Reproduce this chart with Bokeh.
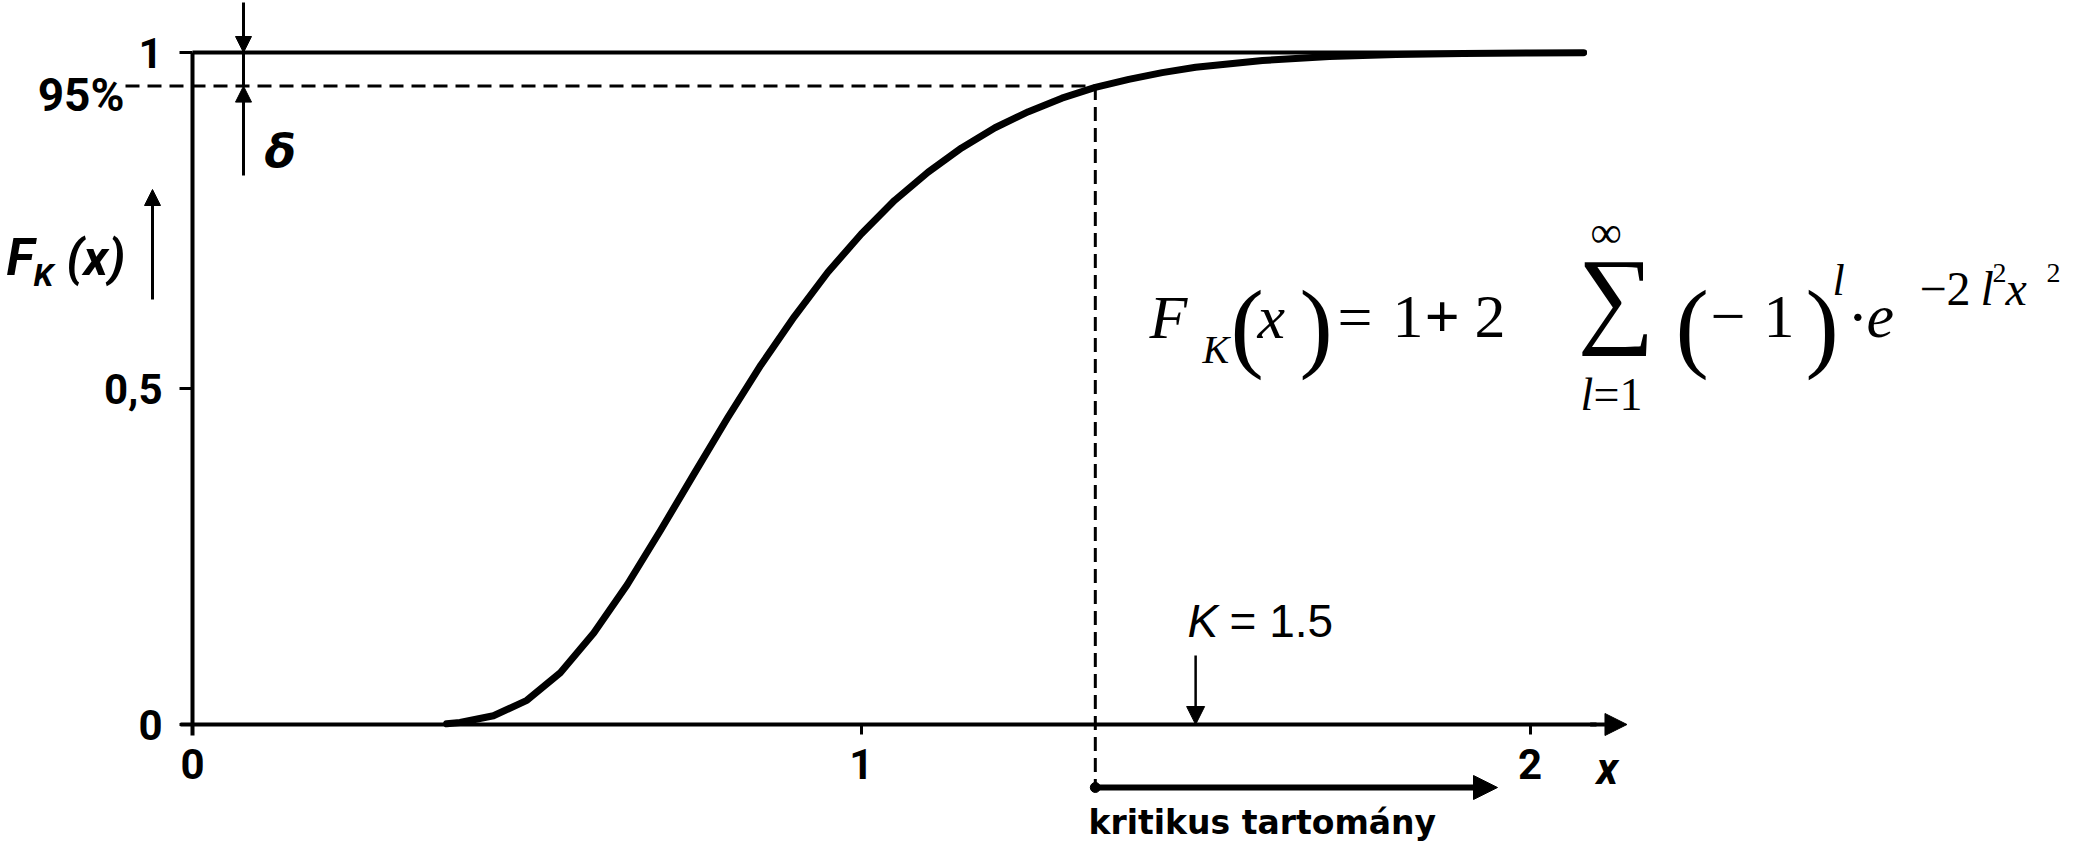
from bokeh.plotting import figure
from bokeh.models import Range1d, LinearAxis, FixedTicker, Arrow, NormalHead
from bokeh.core.properties import value
from bokeh.embed import file_html
from bokeh.resources import INLINE

# ---- data ----
curve_x = [0.38, 0.40, 0.45, 0.50, 0.55, 0.60, 0.65, 0.70, 0.75, 0.80, 0.85, 0.90,
           0.95, 1.00, 1.05, 1.10, 1.15, 1.20, 1.25, 1.30, 1.35, 1.40, 1.45, 1.50,
           1.60, 1.70, 1.80, 1.90, 2.00, 2.08]
curve_y = [0.001, 0.003, 0.013, 0.036, 0.077, 0.136, 0.208, 0.289, 0.373, 0.456, 0.535, 0.607,
           0.673, 0.730, 0.780, 0.822, 0.858, 0.888, 0.912, 0.932, 0.948, 0.960, 0.970, 0.978,
           0.988, 0.994, 0.997, 0.9985, 0.9993, 0.9997]
x_ticks = [0, 1, 2]
x_tick_labels = ["0", "1", "2"]
y_ticks = [0, 0.5, 1]
y_tick_labels = ["0", "0,5", "1"]
level = 0.95          # 95 %
x_crit = 1.35         # critical value where F = 0.95
K_value = 1.5         # test statistic
x_end = 2.085         # end of the 1-line

W, H = 2075, 845
OFF = 8
# reference pixel -> data
def dx(X):
    return (X - 200) / 668.75
def dy(Y):
    return (732 - Y) / 672.0

p = figure(width=W, height=H, output_backend="svg", toolbar_location=None,
           x_range=Range1d(dx(OFF), dx(OFF + W)), y_range=Range1d(dy(OFF + H), dy(OFF)),
           x_axis_location=None, y_axis_location=None, min_border=0)
p.outline_line_color = None
p.background_fill_color = "white"
p.border_fill_color = "white"
p.xgrid.grid_line_color = None
p.ygrid.grid_line_color = None

HAND = "Roboto"

def style_axis(ax):
    ax.axis_line_width = 4
    ax.axis_line_color = "black"
    ax.major_tick_line_width = 3
    ax.major_tick_in = 0
    ax.minor_tick_line_color = None
    ax.major_label_text_font = HAND
    ax.major_label_text_font_style = "bold"
    ax.major_label_text_font_size = "42px"
    ax.major_label_text_color = "black"

yaxis = LinearAxis(fixed_location=0, ticker=FixedTicker(ticks=y_ticks),
                   bounds=(-0.016, 1.0))
yaxis.major_label_overrides = {t: l for t, l in zip(y_ticks, y_tick_labels)}
style_axis(yaxis)
yaxis.major_tick_out = 13
yaxis.major_label_standoff = 17
p.add_layout(yaxis, "left")

xaxis = LinearAxis(fixed_location=0, ticker=FixedTicker(ticks=x_ticks),
                   bounds=(-0.018, 2.1))
xaxis.major_label_overrides = {t: l for t, l in zip(x_ticks, x_tick_labels)}
style_axis(xaxis)
xaxis.major_tick_out = 10
xaxis.major_label_standoff = 14
p.add_layout(xaxis, "below")

# x-axis arrow head
p.add_layout(Arrow(x_start=2.09, y_start=0, x_end=2.145, y_end=0, line_width=4,
                   end=NormalHead(size=22, fill_color="black", line_color="black")))

# 1-level line
p.segment(x0=[0], y0=[1], x1=[x_end], y1=[1], line_width=4, line_color="black")

# 95% dashed lines
p.segment(x0=[dx(133)], y0=[level], x1=[x_crit], y1=[level], line_width=3,
          line_color="black", line_dash="14 8")
p.segment(x0=[x_crit], y0=[level], x1=[x_crit], y1=[dy(795)], line_width=3,
          line_color="black", line_dash="14 7")

# curve
p.line(curve_x, curve_y, line_width=7, line_color="black", line_cap="round", line_join="round")

# critical region arrow
p.scatter(x=[x_crit], y=[dy(795)], size=10, marker="circle", color="black")
p.add_layout(Arrow(x_start=x_crit, y_start=dy(795), x_end=dx(1505), y_end=dy(795),
                   line_width=6, end=NormalHead(size=24, fill_color="black", line_color="black")))

# K arrow
p.add_layout(Arrow(x_start=K_value, y_start=dy(663), x_end=K_value, y_end=0, line_width=2.5,
                   end=NormalHead(size=18, fill_color="black", line_color="black")))

# delta arrows
xd = dx(251)
p.add_layout(Arrow(x_start=xd, y_start=dy(10), x_end=xd, y_end=1, line_width=3,
                   end=NormalHead(size=16, fill_color="black", line_color="black")))
p.segment(x0=[xd], y0=[1], x1=[xd], y1=[level], line_width=3, line_color="black")
p.add_layout(Arrow(x_start=xd, y_start=dy(183), x_end=xd, y_end=level, line_width=3,
                   end=NormalHead(size=16, fill_color="black", line_color="black")))

# F_K(x) arrow
p.add_layout(Arrow(x_start=dx(160), y_start=dy(307), x_end=dx(160), y_end=dy(197), line_width=3,
                   end=NormalHead(size=16, fill_color="black", line_color="black")))


def put(txt, X, B, size, font="Liberation Serif", style="normal", align="left"):
    # B = wanted baseline (reference pixels); compensate the renderer's baseline shift
    Y = B - 0.24 * size
    p.text(x=[dx(X)], y=[dy(Y)], text=[txt], text_font=value(font),
           text_font_size=f"{size}px", text_font_style=style, text_align=align,
           text_baseline="alphabetic", text_color="black")

# handwritten-style labels
put("95%", 132, 114, 46, HAND, "bold", "right")
put("δ", 272, 170, 46, "DejaVu Sans", "bold italic")
put("F", 14, 277, 52, HAND, "bold italic")
put("K", 41, 290, 32, HAND, "bold italic")
put("(x)", 74, 277, 50, HAND, "bold italic")
put("x", 1604, 787, 44, HAND, "bold italic")
put("kritikus tartomány", 1096, 838, 33, "DejaVu Sans", "bold")

# K = 1.5
put("K", 1195, 640, 46, "Liberation Sans", "italic")
put("= 1.5", 1237, 640, 46, "Liberation Sans")

# formula
S = 62
dB = -5
put("F", 1157, 344 + dB, S, style="italic")
put("K", 1210, 372 + dB, 40, style="italic")
put("(", 1238, 362 + dB, 100)
put("x", 1265, 344 + dB, S, style="italic")
put(")", 1307, 362 + dB, 100)
put("=", 1345, 344 + dB, S)
put("1", 1400, 344 + dB, S)
put("+", 1432, 344 + dB, S, style="bold")
put("2", 1482, 344 + dB, S)
put("∞", 1598, 256 + dB, 44)
put("∑", 1585, 335 + dB, 108)
put("l", 1588, 413, 46, style="italic")
put("=1", 1601, 413, 46)
put("(", 1683, 362 + dB, 100)
put("−", 1718, 344 + dB, S)
put("1", 1771, 344 + dB, S)
put(")", 1813, 362 + dB, 100)
put("l", 1840, 304 + dB, 44, style="italic")
put("·", 1855, 344 + dB, S)
put("e", 1874, 344 + dB, S, style="italic")
put("−2", 1927, 313 + dB, 48)
put("l", 1988, 313 + dB, 48, style="italic")
put("2", 2000, 292 + dB, 28)
put("x", 2013, 313 + dB, 48, style="italic")
put("2", 2054, 292 + dB, 28)

open("out.html", "w").write(file_html(p, INLINE))
